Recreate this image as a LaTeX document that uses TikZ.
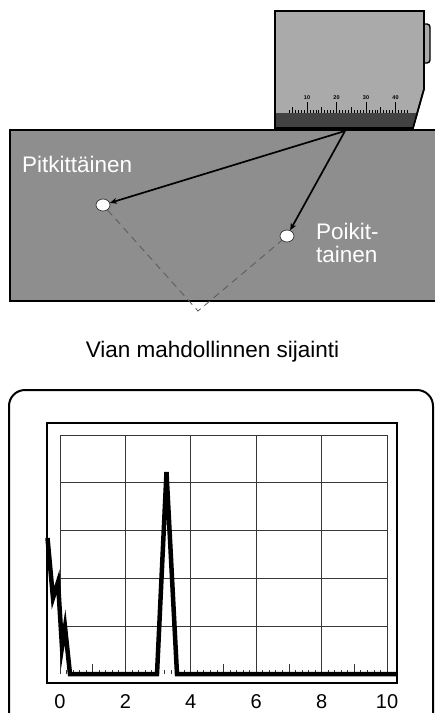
\documentclass[tikz,border=0pt]{standalone}
\usepackage{fontspec}
\setmainfont{Liberation Sans}
\usetikzlibrary{arrows.meta,shapes.geometric}
\definecolor{blockgray}{RGB}{142,142,142}
\definecolor{probegray}{RGB}{170,170,170}
\definecolor{wedgedark}{RGB}{66,66,66}
\definecolor{gridgray}{RGB}{55,55,55}
\tikzset{
  flaw/.style={ellipse, draw=black!75, line width=0.8pt, fill=white, minimum width=14pt, minimum height=12pt, inner sep=0pt},
  beam/.style={line width=1.7pt, -{Stealth[length=7pt,width=6pt]}},
  locus/.style={draw=black!65, line width=0.8pt, dash pattern=on 7pt off 5pt},
  whitelabel/.style={text=white, inner sep=0pt, font=\fontsize{22.5}{24}\selectfont},
  caption/.style={inner sep=0pt, font=\fontsize{22.5}{24}\selectfont},
  axislabel/.style={inner sep=0pt, anchor=base, font=\fontsize{20}{22}\selectfont},
  rulerlabel/.style={inner sep=0pt, anchor=base, font=\bfseries\fontsize{5.5}{6}\selectfont},
  gridline/.style={draw=gridgray, line width=0.8pt},
  trace/.style={line width=4.5pt, line join=miter, miter limit=20},
}
\begin{document}
\begin{tikzpicture}[x=1pt,y=-1pt]
\useasboundingbox (0,0) rectangle (435,713);
\clip (0,0) rectangle (435,713);

% test block
\draw[fill=blockgray, line width=2.5pt] (10,130) rectangle (445,301);

% angle probe: housing, wedge and cable tab
\draw[fill=probegray, line width=1.4pt, rounded corners=3pt] (424,24) -- (430,24) -- (430,63) -- (424,63);
\draw[fill=probegray, line width=1.6pt] (275,11) -- (424,11) -- (424,89) -- (413,128) -- (275,128) -- cycle;
\fill[wedgedark] (276,113) -- (417.2,113) -- (413,128) -- (276,128) -- cycle;
\draw[line width=1.6pt] (424,89) -- (413,128) -- (275,128) -- (275,11);

% scale on the probe
\foreach \u in {4,...,44}{
  \pgfmathsetmacro{\xx}{277.5+2.95*\u}
  \pgfmathsetmacro{\hh}{ifthenelse(mod(\u,10)==0,11,ifthenelse(mod(\u,5)==0,6,3))}
  \draw[line width=0.7pt] (\xx,113) -- ++(0,-\hh);
}
\foreach \u in {10,20,30,40}{
  \pgfmathsetmacro{\xx}{277.5+2.95*\u}
  \node[rulerlabel] at (\xx,99) {\u};
}

% beam paths to the flaws
\coordinate (src) at (345,131);
\node[flaw] (d1) at (103,205) {};
\node[flaw] (d2) at (287,236) {};
\coordinate (apex) at (198,311);
\draw[locus] (d1) -- (apex) -- (d2);
\draw[beam] (src) -- (d1);
\draw[beam] (src) -- (d2);

\node[whitelabel, anchor=base west] (lab1) at (22,172) {Pitkittäinen};
\node[whitelabel, anchor=base west] (lab2a) at (316,239) {Poikit-};
\node[whitelabel, anchor=base west] (lab2b) at (316,262) {tainen};

\node[caption, anchor=base] (cap) at (212.5,357) {Vian mahdollinnen sijainti};

% flaw detector display
\draw[line width=2pt, rounded corners=16pt] (9,390) rectangle (433,730);
\draw[line width=1.8pt] (47,423) rectangle (397,683);

\foreach \gx in {60,125.4,190.8,256.2,321.6,387}{
  \draw[gridline] (\gx,435) -- (\gx,674);
}
\foreach \gy in {435,482.8,530.6,578.4,626.2}{
  \draw[gridline] (60,\gy) -- (387,\gy);
}
% baseline ticks
\foreach \k in {1,...,49}{
  \pgfmathsetmacro{\xx}{60+6.54*\k}
  \pgfmathsetmacro{\hh}{ifthenelse(mod(\k,10)==5,10,4)}
  \draw[gridline] (\xx,674) -- ++(0,-\hh);
}

% received signal
\draw[trace] (47.5,538) -- (53,598) -- (58,582) -- (62,647) -- (65,627) -- (70,674)
  -- (157,674) -- (166.5,472) -- (177,674) -- (397,674);

% time axis
\foreach \gx/\t in {60/0,125.4/2,190.8/4,256.2/6,321.6/8,387/10}{
  \node[axislabel] at (\gx,708) {\t};
}
\end{tikzpicture}
\end{document}
